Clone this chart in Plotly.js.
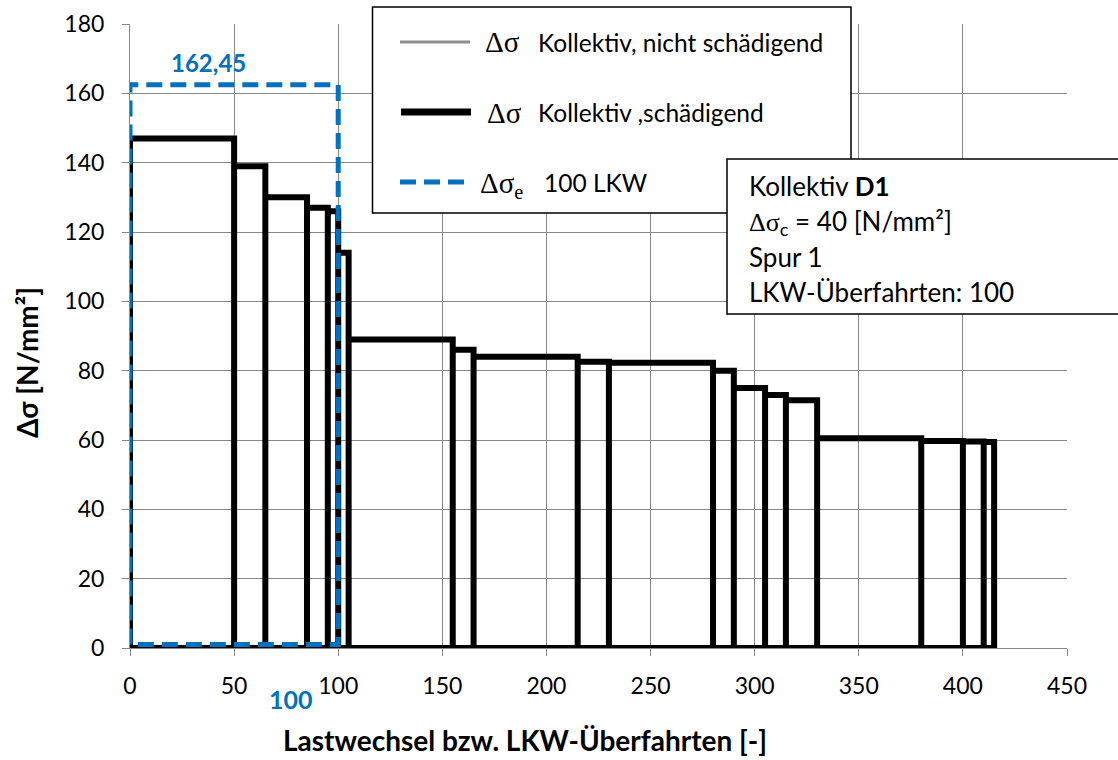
<!DOCTYPE html>
<html>
<head>
<meta charset="utf-8">
<script src="https://cdn.plot.ly/plotly-3.0.1.min.js"></script>
<style>
  html, body { margin: 0; padding: 0; background: #ffffff; }
  #chart { width: 1118px; height: 760px; }
</style>
</head>
<body>
<div id="chart"></div>
<script>
// ---- data ----
const blockStart  = [0, 50, 65, 85, 95, 100, 105, 155, 165, 215, 230, 280, 290, 305, 315, 330, 380, 400, 410];
const blockEnd    = [50, 65, 85, 95, 100, 105, 155, 165, 215, 230, 280, 290, 305, 315, 330, 380, 400, 410, 415];
const blockHeight = [147, 139, 130, 127, 126, 114, 89, 86, 84, 82.6, 82.3, 80, 75, 73, 71.5, 60.5, 59.7, 59.6, 59.4];

const eqStress = 162.45;   // Δσe for 100 LKW
const eqCycles = 100;      // number of LKW crossings
const eqBase   = 1;        // lower edge of the dashed rectangle

const xTicks = [0, 50, 100, 150, 200, 250, 300, 350, 400, 450];
const yTicks = [0, 20, 40, 60, 80, 100, 120, 140, 160, 180];

// ---- build step outline from the blocks ----
const stepX = [], stepY = [];
for (let i = 0; i < blockStart.length; i++) {
  stepX.push(blockStart[i], blockStart[i], blockEnd[i], blockEnd[i]);
  stepY.push(0, blockHeight[i], blockHeight[i], 0);
}
stepX.push(blockStart[0]);
stepY.push(0);

const eqX = [0, 0, eqCycles, eqCycles, 0];
const eqY = [eqBase, eqStress, eqStress, eqBase, eqBase];

const BLUE = '#0070C0';
const GRID = '#888888';
const FONT = 'Lato, "Open Sans", sans-serif';
const SERIF = '"Liberation Serif", "DejaVu Serif", serif';

const traces = [
  { x: stepX, y: stepY, mode: 'lines', type: 'scatter', showlegend: false,
    line: { color: '#000000', width: 6 }, hoverinfo: 'skip' },
  { x: eqX, y: eqY, mode: 'lines', type: 'scatter', showlegend: false,
    line: { color: BLUE, width: 5, dash: '16px,8px' }, hoverinfo: 'skip' }
];

// pixel helpers for decorations (plot area 130..1067 x 24..648)
const L = 130, R = 1067, T = 24, B = 648;
const px = v => (v - L) / (R - L);
const py = v => (B - v) / (B - T);

const shapes = [
  // legend box
  { type: 'rect', xref: 'paper', yref: 'paper', x0: px(372.5), x1: px(851), y0: py(213), y1: py(7),
    line: { color: '#000', width: 1.5 }, fillcolor: '#ffffff', layer: 'above' },
  { type: 'line', xref: 'paper', yref: 'paper', x0: px(400), x1: px(470), y0: py(42), y1: py(42),
    line: { color: '#8f8f8f', width: 3 }, layer: 'above' },
  { type: 'line', xref: 'paper', yref: 'paper', x0: px(401), x1: px(471), y0: py(112), y1: py(112),
    line: { color: '#000', width: 7 }, layer: 'above' },
  { type: 'line', xref: 'paper', yref: 'paper', x0: px(400), x1: px(470), y0: py(182), y1: py(182),
    line: { color: BLUE, width: 5, dash: '16px,8px' }, layer: 'above' },
  // info box
  { type: 'rect', xref: 'paper', yref: 'paper', x0: px(727), x1: px(1140), y0: py(314), y1: py(159),
    line: { color: '#000', width: 1.5 }, fillcolor: '#ffffff', layer: 'above' }
];

const txt = (x, y, text, opts) => Object.assign({
  xref: 'paper', yref: 'paper', x: px(x), y: py(y), text: text, showarrow: false,
  xanchor: 'left', yanchor: 'middle', font: { family: FONT, size: 24.5, color: '#000' }
}, opts || {});

const serif = s => '<span style="font-family:Liberation Serif">' + s + '</span>';
const serifFont = { family: SERIF, size: 29, color: '#000' };
const boxFont = { family: FONT, size: 26, color: '#000' };

const annotations = [
  // legend texts
  txt(483, 42, serif('Δσ'), { font: serifFont }),
  txt(536, 42, 'Kollektiv, nicht schädigend'),
  txt(485, 113, serif('Δσ'), { font: serifFont }),
  txt(536, 112, 'Kollektiv ,schädigend'),
  txt(478, 185, serif('Δσ') + '<sub>e</sub>', { font: serifFont }),
  txt(542, 182, eqCycles + ' LKW'),
  // info box texts
  txt(747, 186, 'Kollektiv <b>D1</b>', { font: boxFont }),
  txt(747, 222, serif('Δσ') + '<sub>c</sub> = 40 [N/mm²]', { font: boxFont }),
  txt(747, 257, 'Spur 1', { font: boxFont }),
  txt(747, 292, 'LKW-Überfahrten: ' + eqCycles, { font: boxFont }),
  // value labels
  { xref: 'x', yref: 'y', x: 37.5, y: eqStress + 6.5, text: '<b>' + String(eqStress).replace('.', ',') + '</b>',
    showarrow: false, xanchor: 'center', yanchor: 'middle', font: { family: FONT, size: 24, color: BLUE } },
  { xref: 'x', yref: 'paper', x: 77.5, y: py(699), text: '<b>' + eqCycles + '</b>',
    showarrow: false, xanchor: 'center', yanchor: 'middle', font: { family: FONT, size: 25, color: BLUE } },
  // axis titles
  txt(525, 740, '<b>Lastwechsel bzw. LKW-Überfahrten [-]</b>', { xanchor: 'center', font: { family: FONT, size: 28, color: '#000' } }),
  txt(27, 363, '<b>Δσ [N/mm²]</b>', { xanchor: 'center', textangle: -90, font: { family: FONT, size: 28, color: '#000' } })
];

const axisCommon = {
  showgrid: true, gridcolor: GRID, gridwidth: 1,
  showline: true, linecolor: GRID, linewidth: 1,
  ticks: 'outside', ticklen: 7, tickcolor: GRID, tickwidth: 1,
  zeroline: false, tickfont: { family: FONT, size: 23, color: '#000' },
  tickmode: 'array'
};

const layout = {
  width: 1118, height: 760,
  margin: { l: L, r: 1118 - R, t: T, b: 760 - B },
  paper_bgcolor: '#ffffff', plot_bgcolor: '#ffffff',
  font: { family: FONT, size: 22, color: '#000' },
  showlegend: false,
  xaxis: Object.assign({}, axisCommon, { range: [0, 450], tickvals: xTicks, ticktext: xTicks.map(String), ticklabelstandoff: 10 }),
  yaxis: Object.assign({}, axisCommon, { range: [0, 180], tickvals: yTicks, ticktext: yTicks.map(String), ticklabelstandoff: 13 }),
  shapes: shapes,
  annotations: annotations
};

Plotly.newPlot('chart', traces, layout, { staticPlot: true, displayModeBar: false });
</script>
</body>
</html>
